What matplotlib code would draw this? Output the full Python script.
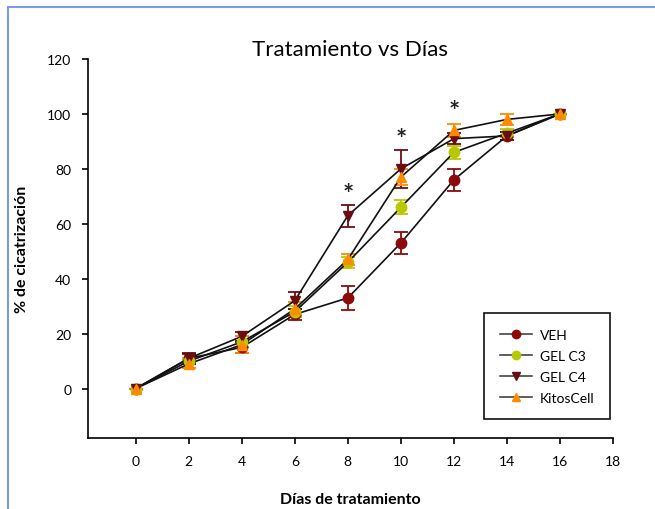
import matplotlib.pyplot as plt
from matplotlib.lines import Line2D
from matplotlib.patches import Rectangle

plt.rcParams["font.family"] = ["Lato", "DejaVu Sans"]

dias = [0, 2, 4, 6, 8, 10, 12, 14, 16]

veh = [0, 11, 15, 27, 33, 53, 76, 92, 100]
veh_err = [0, 1.5, 2, 2, 4.5, 4, 4, 1.5, 0]

gel_c3 = [0, 10, 17, 28, 46, 66, 86, 93, 100]
gel_c3_err = [0, 1, 2, 2, 2, 2.5, 2.5, 1.5, 0]

gel_c4 = [0, 11, 19, 32, 63, 80, 91, 92, 100]
gel_c4_err = [0, 2, 1.5, 3, 4, 7, 2, 1.5, 0]

kitos = [0, 9, 16, 29, 47, 77, 94, 98, 100]
kitos_err = [0, 1.5, 3, 2.5, 2, 3, 2.5, 2, 0]

star_x = [8, 10, 12]
star_y = [71, 91, 101]

series = [
    ("VEH", veh, veh_err, "o", "#8e0a0a"),
    ("GEL C3", gel_c3, gel_c3_err, "o", "#b8c800"),
    ("GEL C4", gel_c4, gel_c4_err, "v", "#6a0d12"),
    ("KitosCell", kitos, kitos_err, "^", "#ff8a00"),
]

fig = plt.figure(figsize=(6.55, 5.10), dpi=100)
fig.patches.append(Rectangle((8 / 655, -0.1), 1.2, 1 - 8 / 510 + 0.1,
                             transform=fig.transFigure, fill=False,
                             edgecolor="#7d9be0", linewidth=1.5))
ax = fig.add_axes([88 / 655, 71 / 510, 525 / 655, 379 / 510])

handles = []
for name, vals, err, mk, col in series:
    ax.errorbar(dias, vals, yerr=err, fmt="none", ecolor=col, elinewidth=1.3,
                capsize=5, capthick=1.3, zorder=2)
    ax.plot(dias, vals, color="#111111", linewidth=1.2, zorder=3)
    ax.plot(dias, vals, linestyle="none", marker=mk, markersize=7.5,
            markerfacecolor=col, markeredgecolor=col, zorder=4)
    handles.append(Line2D([0], [0], color="#333333", linewidth=1.1, marker=mk,
                          markersize=6, markerfacecolor=col,
                          markeredgecolor=col, label=name))

for sx, sy in zip(star_x, star_y):
    ax.text(sx, sy, "*", ha="center", va="center", fontsize=19,
            fontweight="bold", color="#222222")

ax.set_xlim(-1.8, 18)
ax.set_ylim(-18, 120)
ax.set_xticks(range(0, 19, 2))
ax.set_yticks(range(0, 121, 20))
ax.spines["top"].set_visible(False)
ax.spines["right"].set_visible(False)
ax.spines["left"].set_linewidth(1.2)
ax.spines["bottom"].set_linewidth(1.2)
ax.tick_params(labelsize=10, length=4, width=1.2, pad=8)

ax.set_title("Tratamiento vs Días", fontsize=16, pad=2)
ax.set_xlabel("Días de tratamiento", fontsize=11.5, fontweight="bold", labelpad=18)
ax.set_ylabel("% de cicatrización", fontsize=11.5, fontweight="bold", labelpad=13)

leg = ax.legend(handles=handles, loc="lower right",
                bbox_to_anchor=(0.994, 0.05), borderaxespad=0, fontsize=10,
                frameon=True, framealpha=1, fancybox=False,
                edgecolor="#111111", handlelength=2.3, borderpad=1.1,
                labelspacing=0.65, handletextpad=0.6)
leg.get_frame().set_linewidth(1.2)

fig.savefig("out.png", dpi=100)
